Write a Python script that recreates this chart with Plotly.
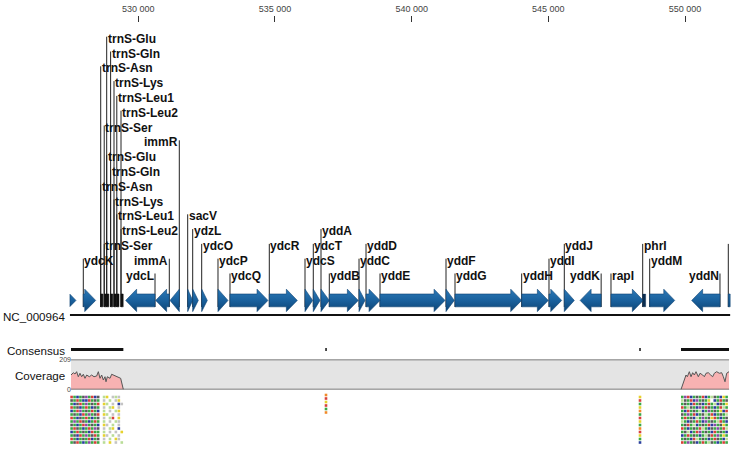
import plotly.graph_objects as go

# ---------------- data ----------------
view_start = 527500
view_end = 551650

tick_vals = [530000, 535000, 540000, 545000, 550000]
tick_text = ["530 000", "535 000", "540 000", "545 000", "550 000"]

gene_names = ["", "ydcK", "ydcL", "immA", "immR", "sacV", "ydzL", "ydcO", "ydcP",
              "ydcQ", "ydcR", "ydcS", "ydcT", "yddA", "yddB", "yddC", "yddD", "yddE",
              "yddF", "yddG", "yddH", "yddI", "yddJ", "yddK", "rapI", "yddM", "yddN", ""]
gene_starts = [527200, 527988, 529539, 530636, 531160, 531807, 531990, 532319, 532915,
               533354, 534792, 536098, 536401, 536683, 536987, 538074, 538330, 538842,
               541256, 541585, 544024, 545023, 545583, 546163, 547291, 548707, 550243, 551582]
gene_ends = [527720, 528441, 530611, 531134, 531500, 531990, 532195, 532524, 533281,
             534744, 535816, 536380, 536647, 536987, 538048, 538293, 538842, 541220,
             541559, 544024, 544998, 545488, 545949, 546931, 548473, 549622, 551278, 552300]
gene_strands = ["+", "+", "-", "-", "-", "+", "+", "+", "+",
                "+", "+", "+", "+", "+", "+", "+", "+", "+",
                "+", "+", "+", "+", "+", "-", "+", "+", "-", "+"]
gene_rows = [None, 1, 0, 1, 9, 4, 3, 2, 1,
             0, 2, 1, 2, 3, 0, 1, 2, 0,
             1, 0, 0, 1, 2, 0, 0, 1, 0, 2]

trna_names = ["trnS-Asn", "trnS-Ser", "trnS-Glu", "trnS-Gln", "trnS-Lys", "trnS-Leu1", "trnS-Leu2",
              "trnS-Asn", "trnS-Ser", "trnS-Glu", "trnS-Gln", "trnS-Lys", "trnS-Leu1", "trnS-Leu2"]
trna_starts = [528625, 528753, 528844, 528987, 529111, 529214, 529367,
               528625, 528753, 528844, 528987, 529111, 529214, 529367]
trna_ends = [528705, 528833, 528924, 529067, 529191, 529294, 529447,
             528705, 528833, 528924, 529067, 529191, 529294, 529447]
trna_rows = [14, 10, 16, 15, 13, 12, 11,
             6, 2, 8, 7, 5, 4, 3]

peptide_names = ["phrI"]
peptide_starts = [548451]
peptide_ends = [548561]
peptide_rows = [2]

cov_left_pos = [527538, 527623, 527684, 527745, 527806, 527867, 527928, 527989, 528050,
                528111, 528209, 528294, 528379, 528477, 528538, 528599, 528660, 528721,
                528782, 528819, 528868, 528965, 529026, 529148, 529270, 529355, 529453]
cov_left_val = [101, 117, 108, 124, 89, 113, 89, 106, 78,
                101, 89, 101, 89, 94, 124, 78, 101, 66,
                89, 54, 89, 78, 106, 96, 89, 78, 0]
cov_right_pos = [549852, 549937, 550035, 550084, 550157, 550218, 550279, 550340, 550401,
                 550486, 550547, 550645, 550706, 550767, 550852, 550937, 551010, 551071,
                 551157, 551254, 551340, 551401, 551462, 551523, 551608]
cov_right_val = [0, 54, 101, 89, 124, 89, 117, 101, 124,
                 89, 113, 101, 89, 113, 117, 101, 89, 113,
                 124, 113, 117, 89, 54, 113, 124]
cov_max = 209

consensus_segments = [(527538, 529453), (536840, 536895), (548325, 548380), (549852, 551608)]

reads_left_start = 527560
reads_left = ["rgbgkpgrbk.ly.sls.",
              "kgrgbbrgkg.s.l.sy.",
              "gbkrgpgkgr.yl.s.bs",
              "rgkbgrgbkg.s.ly.s.",
              "bgrpgkgrgb.l.s.ly.",
              "gkgbrgpgkr.yl.s.s.",
              "rgbkgrgbgk.s.lr.y.",
              "gpgrkgbgrg.l.s.ls.",
              "kgbgrpgkgb.ys.l.s.",
              "grkgbgrgpk.s.ly.b.",
              "bgrgkgbrgg.l.s.s.y",
              "gkbrgpgkrg.ys.l.s.",
              "rgbgkgrbgk.s.l.ys.",
              "gkrgbgpgrg.l.y.s.l"]
reads_right_start = 549900
reads_right = ["gprbgkgrbglkgbyg",
               "lkgrbpgkgy.bgrgk",
               "gkgbrgkbgrglbkgy",
               "rglkgbpgrkgbgrlg",
               "gbrgkglbgpgkgybr",
               "kgpgrbgklgrbgkgl",
               "grgkblgpgkyrgbgk",
               "lgbkgrgbpgkglrgb",
               "gkrglbgkgrbpgkyg",
               "rgbgkgrlgbkgpgrl",
               "gklbgrpgkgbrgkgb",
               "bgrgkgbglkrgpgyg",
               "gkgbrlgkgbgrkgbl",
               "rgpgkbgrglkgbgrg"]
reads_mid1_pos = 536866
reads_mid1 = "oryrgo"
reads_mid2_pos = 548352
reads_mid2 = "yrgyogrygorygb"

# ---------------- styling helpers ----------------
read_colors = {"g": "#3aa845", "r": "#d8403a", "b": "#2b3f9e", "y": "#e6d22e",
               "p": "#8a4aa8", "k": "#5a5a5a", "l": "#b9dd97", "s": "#c4c4c4",
               "o": "#f08a2a"}
BODY_T, BODY_B = 294.0, 306.8
HEAD_T, HEAD_B = 289.2, 311.6
MID = 300.4
HEAD_LEN = 400
LEADER_BOTTOM = 307


def baseline(row):
    return 279.5 - 14.8 * row


def clip(poly, xmin, xmax):
    def clip_edge(pts, inside, inter):
        out = []
        n = len(pts)
        for i in range(n):
            cur, prev = pts[i], pts[i - 1]
            if inside(cur):
                if not inside(prev):
                    out.append(inter(prev, cur))
                out.append(cur)
            elif inside(prev):
                out.append(inter(prev, cur))
        return out

    def ix(xv):
        def f(p, q):
            t = (xv - p[0]) / (q[0] - p[0])
            return (xv, p[1] + t * (q[1] - p[1]))
        return f
    pts = clip_edge(poly, lambda p: p[0] >= xmin, ix(xmin))
    if pts:
        pts = clip_edge(pts, lambda p: p[0] <= xmax, ix(xmax))
    return pts


def arrow(s, e, strand):
    h = min(HEAD_LEN, e - s)
    if strand == "+":
        if h >= e - s:
            pts = [(s, HEAD_T), (e, MID), (s, HEAD_B)]
        else:
            pts = [(s, BODY_T), (e - h, BODY_T), (e - h, HEAD_T), (e, MID),
                   (e - h, HEAD_B), (e - h, BODY_B), (s, BODY_B)]
    else:
        if h >= e - s:
            pts = [(e, HEAD_T), (s, MID), (e, HEAD_B)]
        else:
            pts = [(e, BODY_T), (s + h, BODY_T), (s + h, HEAD_T), (s, MID),
                   (s + h, HEAD_B), (s + h, BODY_B), (e, BODY_B)]
    return clip(pts, view_start, view_end)


fig = go.Figure()
annotations = []
label_font = dict(family="Liberation Sans, Arial, sans-serif", size=12, color="#111111", weight="bold")

# leader lines
lx, ly = [], []
for nm, s, e, st, r in zip(gene_names, gene_starts, gene_ends, gene_strands, gene_rows):
    if r is None:
        continue
    x = s if st == "+" else e
    lx += [x, x, None]
    ly += [baseline(r) - 6, LEADER_BOTTOM, None]
    if nm:
        annotations.append(dict(x=x, y=baseline(r) - 4, text=nm, showarrow=False,
                                xanchor="left" if st == "+" else "right", yanchor="middle",
                                xshift=-1 if st == "+" else 1, font=label_font))
for nm, s, e, r in list(zip(trna_names, trna_starts, trna_ends, trna_rows)) + \
        list(zip(peptide_names, peptide_starts, peptide_ends, peptide_rows)):
    lx += [s, s, None]
    ly += [baseline(r) - 6, LEADER_BOTTOM, None]
    annotations.append(dict(x=s, y=baseline(r) - 4, text=nm, showarrow=False,
                            xanchor="left", yanchor="middle", xshift=-1, font=label_font))
fig.add_trace(go.Scatter(x=lx, y=ly, mode="lines", line=dict(color="#222222", width=1),
                         hoverinfo="skip", showlegend=False))

# gene arrows
ax, ay = [], []
for s, e, st in zip(gene_starts, gene_ends, gene_strands):
    pts = arrow(s, e, st)
    if len(pts) < 3:
        continue
    pts = pts + [pts[0]]
    ax += [p[0] for p in pts] + [None]
    ay += [p[1] for p in pts] + [None]
fig.add_trace(go.Scatter(x=ax, y=ay, mode="lines", fill="toself",
                         line=dict(color="#0d4272", width=0.6),
                         fillgradient=dict(type="vertical", start=HEAD_T, stop=HEAD_B,
                                           colorscale=[[0, "#2b78b6"], [0.5, "#1a619d"], [1, "#0c4475"]]),
                         hoverinfo="skip", showlegend=False))

# tRNA bars
tx, ty = [], []
for s, e in zip(trna_starts, trna_ends):
    tx += [s, e, e, s, s, None]
    ty += [BODY_T, BODY_T, BODY_B, BODY_B, BODY_T, None]
fig.add_trace(go.Scatter(x=tx, y=ty, mode="lines", fill="toself", fillcolor="#111111",
                         line=dict(color="#111111", width=0.3), hoverinfo="skip", showlegend=False))
px_, py_ = [], []
for s, e in zip(peptide_starts, peptide_ends):
    px_ += [s, e, e, s, s, None]
    py_ += [BODY_T, BODY_T, BODY_B, BODY_B, BODY_T, None]
fig.add_trace(go.Scatter(x=px_, y=py_, mode="lines", fill="toself", fillcolor="#0a2d50",
                         line=dict(color="#0a2d50", width=0.3), hoverinfo="skip", showlegend=False))

# sequence line
fig.add_trace(go.Scatter(x=[view_start, view_end], y=[315, 315], mode="lines",
                         line=dict(color="#111111", width=2), hoverinfo="skip", showlegend=False))

# consensus
cx, cy = [], []
for a, b in consensus_segments:
    cx += [a, b, None]
    cy += [349.5, 349.5, None]
fig.add_trace(go.Scatter(x=cx, y=cy, mode="lines", line=dict(color="#111111", width=3),
                         hoverinfo="skip", showlegend=False))

# coverage track
shapes = [
    dict(type="rect", xref="x", yref="y2", x0=view_start + 40, x1=view_end - 40, y0=0, y1=cov_max,
         fillcolor="#e4e4e4", line=dict(width=0), layer="below"),
    dict(type="line", xref="x", yref="y2", x0=view_start + 40, x1=view_end - 40, y0=cov_max, y1=cov_max,
         line=dict(color="#555555", width=1.5)),
    dict(type="line", xref="x", yref="y2", x0=view_start + 40, x1=view_end - 40, y0=0, y1=0,
         line=dict(color="#555555", width=1.5)),
]
for xs, vs in [(cov_left_pos, cov_left_val), (cov_right_pos, cov_right_val)]:
    fig.add_trace(go.Scatter(x=xs, y=vs, yaxis="y2", mode="lines", fill="tozeroy",
                             fillcolor="#f7b2b2", line=dict(color="#555555", width=1),
                             hoverinfo="skip", showlegend=False))

# reads pileup
col_w = 108
row_y0, row_dy = 397.0, 3.5
groups = {}


def add_cell(ch, x, y):
    if ch == ".":
        return
    groups.setdefault(ch, ([], []))
    groups[ch][0].append(x)
    groups[ch][1].append(y)


for i, rowstr in enumerate(reads_left):
    for j, ch in enumerate(rowstr):
        add_cell(ch, reads_left_start + j * col_w, row_y0 + i * row_dy)
for i, rowstr in enumerate(reads_right):
    for j, ch in enumerate(rowstr):
        add_cell(ch, reads_right_start + j * col_w, row_y0 + i * row_dy)
for i, ch in enumerate(reads_mid1):
    add_cell(ch, reads_mid1_pos, row_y0 - 2 + i * row_dy)
for i, ch in enumerate(reads_mid2):
    add_cell(ch, reads_mid2_pos, row_y0 + i * row_dy)
for ch, (xs, ys) in groups.items():
    fig.add_trace(go.Scatter(x=xs, y=ys, mode="markers",
                             marker=dict(symbol="square", size=2.6, color=read_colors[ch], line=dict(width=0)),
                             hoverinfo="skip", showlegend=False))

# track labels
track_font = dict(family="Liberation Sans, Arial, sans-serif", size=11.6, color="#111111")
for txt, yv in [("NC_000964", 316.5), ("Consensus", 350), ("Coverage", 375)]:
    annotations.append(dict(x=65 / 738, xref="paper", y=yv, yref="y", text=txt, showarrow=False,
                            xanchor="right", yanchor="middle", xshift=2, font=track_font))

fig.update_layout(
    width=738, height=450,
    margin=dict(l=0, r=0, t=23, b=0, autoexpand=False),
    paper_bgcolor="white", plot_bgcolor="white",
    showlegend=False,
    xaxis=dict(range=[524941, 551937], side="top", showgrid=False, zeroline=False, showline=False,
               automargin=False,
               tickvals=tick_vals, ticktext=tick_text, ticks="outside", ticklen=6, tickwidth=1,
               tickcolor="#333333", tickfont=dict(family="Liberation Sans, Arial, sans-serif", size=9,
                                                  color="#444444")),
    yaxis=dict(range=[450, 23], visible=False, domain=[0, 1], automargin=False),
    yaxis2=dict(domain=[(450 - 389.5) / 427, (450 - 359.5) / 427], range=[0, cov_max], anchor="free",
                position=71 / 738, showgrid=False, zeroline=False, showline=False, automargin=False,
                tickvals=[0, cov_max], ticks="", ticklen=0,
                tickfont=dict(family="Liberation Sans, Arial, sans-serif", size=7, color="#444444")),
    annotations=annotations,
    shapes=shapes,
)

fig.write_html("out.html", config={"displayModeBar": False},
               post_script="document.body.style.margin='0px';document.body.style.overflow='hidden';")
